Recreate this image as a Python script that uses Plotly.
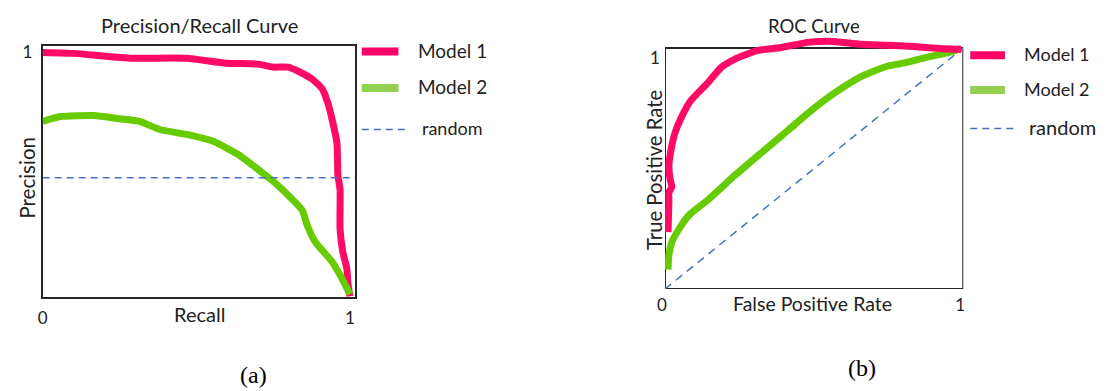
import plotly.graph_objects as go

W, H = 1107, 391

# ---------------- data ----------------
pr_recall_m1 = [0.0, 0.103, 0.210, 0.297, 0.468, 0.597, 0.703, 0.748, 0.800, 0.832, 0.877, 0.910,
                0.929, 0.945, 0.958, 0.961, 0.968, 0.968, 0.977, 0.990, 0.994, 1.0]
pr_prec_m1 = [1.0, 0.996, 0.984, 0.976, 0.976, 0.956, 0.952, 0.940, 0.940, 0.923, 0.891, 0.851,
              0.790, 0.710, 0.629, 0.496, 0.440, 0.278, 0.185, 0.117, 0.052, 0.004]
pr_recall_m2 = [0.0, 0.058, 0.168, 0.242, 0.316, 0.381, 0.468, 0.555, 0.639, 0.703, 0.748, 0.813,
                0.845, 0.861, 0.887, 0.942, 0.974, 1.0]
pr_prec_m2 = [0.718, 0.738, 0.742, 0.730, 0.718, 0.685, 0.665, 0.637, 0.581, 0.520, 0.476, 0.399,
              0.355, 0.294, 0.226, 0.145, 0.077, 0.012]
pr_random_x = [0.0, 1.03]
pr_random_y = [0.488, 0.488]

roc_fpr_m1 = [0.010, 0.013, 0.013, 0.023, 0.017, 0.013, 0.020, 0.033, 0.056, 0.086, 0.140, 0.189,
              0.233, 0.312, 0.389, 0.478, 0.565, 0.654, 0.744, 0.831, 0.920, 0.993]
roc_tpr_m1 = [0.236, 0.359, 0.400, 0.424, 0.456, 0.510, 0.576, 0.646, 0.715, 0.781, 0.851, 0.920,
              0.953, 0.990, 1.002, 1.023, 1.027, 1.015, 1.011, 1.006, 0.998, 0.994]
roc_fpr_m2 = [0.010, 0.013, 0.023, 0.047, 0.080, 0.146, 0.233, 0.322, 0.412, 0.478, 0.565, 0.654,
              0.744, 0.811, 0.877, 0.953, 0.993]
roc_tpr_m2 = [0.081, 0.142, 0.195, 0.249, 0.306, 0.372, 0.470, 0.564, 0.658, 0.728, 0.810, 0.879,
              0.924, 0.940, 0.961, 0.982, 0.998]
roc_random_x = [0.0, 1.0]
roc_random_y = [0.0, 1.0]

tick_vals = [0, 1]
tick_text = ["0", "1"]
legend_labels = ["Model 1", "Model 2", "random"]

# ---------------- style ----------------
PINK = "#FF0A66"
GREEN = "#66CC00"
LEG_PINK = "#FF0066"
LEG_GREEN = "#92D050"
BLUE = "#4472C4"
BOX = "#262626"
FONT = "Lato"


def fx(p):
    return p / W


def fy(p):
    return 1 - p / H


fig = go.Figure()

# Left: Precision / Recall
fig.add_trace(go.Scatter(x=pr_recall_m1, y=pr_prec_m1, mode="lines", xaxis="x", yaxis="y",
                         line=dict(color=PINK, width=7, shape="spline", smoothing=0.5),
                         showlegend=False))
fig.add_trace(go.Scatter(x=pr_recall_m2, y=pr_prec_m2, mode="lines", xaxis="x", yaxis="y",
                         line=dict(color=GREEN, width=7, shape="spline", smoothing=0.5),
                         showlegend=False))
fig.add_trace(go.Scatter(x=pr_random_x, y=pr_random_y, mode="lines", xaxis="x", yaxis="y",
                         line=dict(color=BLUE, width=1.5, dash="7px,5px"), showlegend=False))

# Right: ROC
fig.add_trace(go.Scatter(x=roc_random_x, y=roc_random_y, mode="lines", xaxis="x2", yaxis="y2",
                         line=dict(color=BLUE, width=1.5, dash="8px,6px"), showlegend=False))
fig.add_trace(go.Scatter(x=roc_fpr_m2, y=roc_tpr_m2, mode="lines", xaxis="x2", yaxis="y2",
                         line=dict(color=GREEN, width=7, shape="spline", smoothing=0.5),
                         showlegend=False))
fig.add_trace(go.Scatter(x=roc_fpr_m1, y=roc_tpr_m1, mode="lines", xaxis="x2", yaxis="y2",
                         line=dict(color=PINK, width=7, shape="spline", smoothing=0.5),
                         showlegend=False))

tickfont = dict(family=FONT, size=17, color="#222")

# left panel box: x 35..350, y 41.5..296 ; 0 at (35,296), 1 at (345,48)
fig.update_layout(
    xaxis=dict(domain=[fx(35), fx(350)], range=[0, 315 / 310], tickvals=tick_vals, ticktext=tick_text,
               showgrid=False, zeroline=False, showline=True, mirror=True, linecolor=BOX, linewidth=2,
               ticks="", tickfont=tickfont, ticklabelstandoff=4, layer="below traces", fixedrange=True),
    yaxis=dict(domain=[fy(296), fy(41.5)], range=[0, 254.5 / 248], tickvals=[1], ticktext=["1"],
               showgrid=False, zeroline=False, showline=True, mirror=True, linecolor=BOX, linewidth=2,
               ticks="", tickfont=tickfont, ticklabelstandoff=5, layer="below traces", fixedrange=True),
    # right panel: x 663..964 => [0,1]; y 287.7..43.5 => [0,1]; plot area extends to y=30
    xaxis2=dict(domain=[fx(663), fx(964)], range=[0, 1], anchor="y2", tickvals=tick_vals,
                ticktext=tick_text, showgrid=False, zeroline=False, showline=False, ticks="",
                tickfont=tickfont, ticklabelstandoff=4, ticklabelshift=-3, fixedrange=True),
    yaxis2=dict(domain=[fy(287.7), fy(30)], range=[0, 257.7 / 244.2], anchor="x2",
                showgrid=False, zeroline=False, showline=False, showticklabels=False, ticks="",
                fixedrange=True),
)

shapes = [
    dict(type="rect", xref="x2", yref="y2", x0=0, y0=0, x1=1, y1=1, layer="below",
         line=dict(color=BOX, width=2), fillcolor="rgba(0,0,0,0)"),
]

annotations = []


def text(s, x, y, size, angle=0, family=FONT, color="#222"):
    annotations.append(dict(text=s, x=fx(x), y=fy(y), xref="paper", yref="paper", showarrow=False,
                            xanchor="center", yanchor="middle", textangle=angle,
                            font=dict(family=family, size=size, color=color)))


# titles and axis titles
text("Precision/Recall Curve", 193, 20, 20)
text("Recall", 193, 313, 20)
text("Precision", 19, 175, 20.5, angle=-90)
text("ROC Curve", 813, 21, 18.5)
text("False Positive Rate", 812, 302, 19.5)
text("True Positive Rate", 652, 167, 20.3, angle=-90)
# y tick label "1" of the ROC panel (drawn slightly below the top edge, as in the original)
text(tick_text[1], 653, 53, 17)

# captions
text("(a)", 248, 375, 24, family="Liberation Serif", color="#000")
text("(b)", 862, 368, 24, family="Liberation Serif", color="#000")


# manual legends
def legend(x0, x1, xdash1, ys, xt, sizes):
    cols = [LEG_PINK, LEG_GREEN]
    for i in range(2):
        shapes.append(dict(type="line", xref="paper", yref="paper", x0=fx(x0), x1=fx(x1),
                           y0=fy(ys[i]), y1=fy(ys[i]), line=dict(color=cols[i], width=8)))
    shapes.append(dict(type="line", xref="paper", yref="paper", x0=fx(x0), x1=fx(xdash1),
                       y0=fy(ys[2]), y1=fy(ys[2]), line=dict(color=BLUE, width=1.5, dash="7px,5px")))
    for i, lab in enumerate(legend_labels):
        annotations.append(dict(text=lab, x=fx(xt[i]), y=fy(ys[i] - 1), xref="paper", yref="paper",
                                showarrow=False, xanchor="left", yanchor="middle",
                                font=dict(family=FONT, size=sizes[i], color="#222")))


legend(357, 394, 405, [47, 84, 126], [412, 412, 416], [19, 19, 18])
legend(971, 1006, 1016, [51, 86, 125], [1023, 1023, 1028], [18, 18, 20])

fig.update_layout(width=W, height=H, margin=dict(l=0, r=0, t=0, b=0),
                  paper_bgcolor="white", plot_bgcolor="white",
                  shapes=shapes, annotations=annotations, showlegend=False)

fig.write_html("out.html")
